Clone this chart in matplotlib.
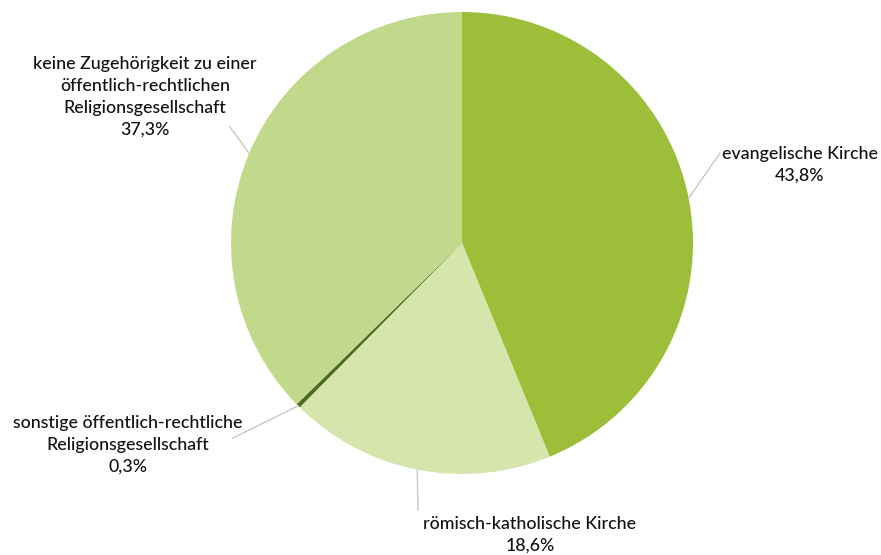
import matplotlib.pyplot as plt
import numpy as np

categories = [
    'evangelische Kirche',
    'römisch-katholische Kirche',
    'sonstige öffentlich-rechtliche\nReligionsgesellschaft',
    'keine Zugehörigkeit zu einer\nöffentlich-rechtlichen\nReligionsgesellschaft',
]
shares = [43.8, 18.6, 0.3, 37.3]
colors = ['#9dbe39', '#d5e5ab', '#4e6a1f', '#c1d98b']

# label centres and leader-line end points (pixel space, y down)
label_pos = [(800, 165), (530, 535), (128, 445), (145, 97)]
line_end = [(720, 153), (418, 510), (233, 438), (230, 127)]

W, H = 881, 555
cx, cy, r = 462, 243, 231

plt.rcParams['font.family'] = ['Lato', 'DejaVu Sans']
fig = plt.figure(figsize=(W / 100, H / 100), dpi=100)
ax = fig.add_axes([0, 0, 1, 1])
ax.set_xlim(0, W)
ax.set_ylim(0, H)
ax.axis('off')

ax.pie(shares, colors=colors, startangle=90, counterclock=False,
       center=(cx, H - cy), radius=r, wedgeprops=dict(linewidth=0))
ax.set_xlim(0, W)
ax.set_ylim(0, H)

start = 90.0
for name, val, (lx, ly), (ex, ey) in zip(categories, shares, label_pos, line_end):
    mid = np.deg2rad(start - val * 3.6 / 2)
    start -= val * 3.6
    px, py = cx + r * np.cos(mid), cy - r * np.sin(mid)
    ax.plot([px, ex], [H - py, H - ey], color='#c8c8c8', lw=1)
    txt = name + '\n' + f'{val:.1f}%'.replace('.', ',')
    ax.text(lx, H - ly, txt, ha='center', va='center', fontsize=12.8,
            fontweight='medium', color='#111111', linespacing=1.45)

fig.savefig('out.png', dpi=100)
